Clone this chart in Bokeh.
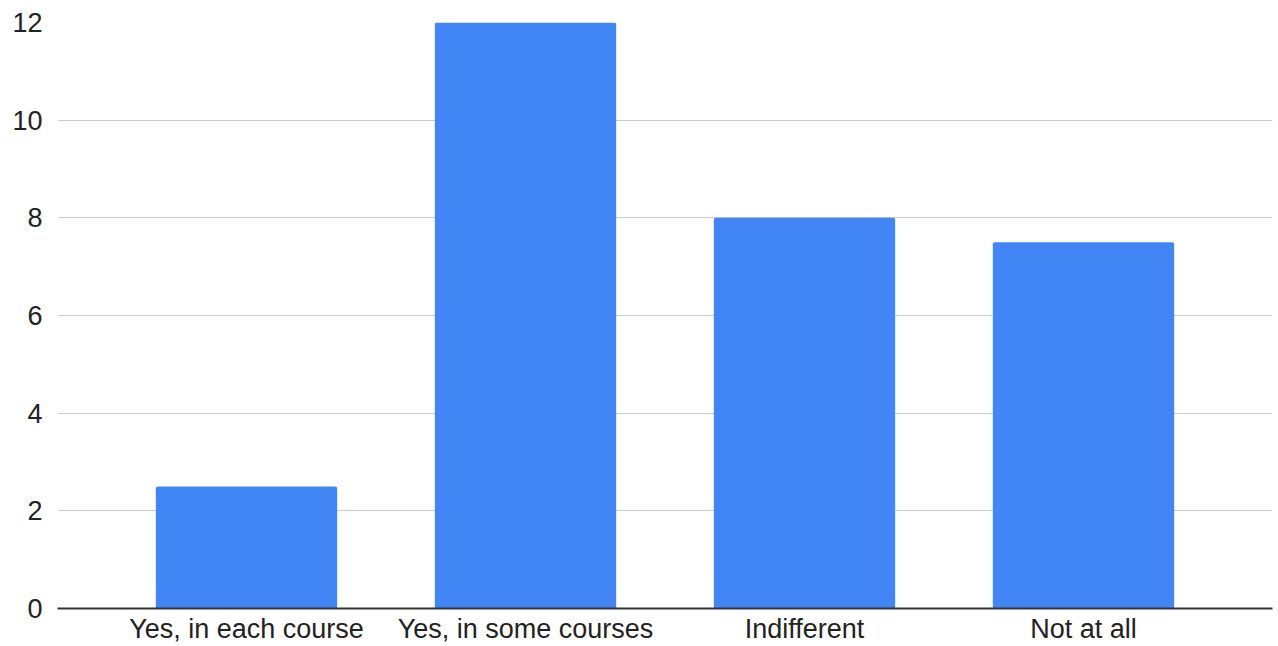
from bokeh.plotting import figure
from bokeh.models import FactorRange, Range1d, FixedTicker, ColumnDataSource
from bokeh.embed import file_html
from bokeh.resources import INLINE

categories = ["Yes, in each course", "Yes, in some courses", "Indifferent", "Not at all"]
counts = [2.5, 12, 8, 7.5]
y_ticks = [0, 2, 4, 6, 8, 10, 12]

source = ColumnDataSource(data=dict(cat=categories, count=counts))

p = figure(
    width=1278, height=646,
    x_range=FactorRange(factors=categories, range_padding=0.1775, range_padding_units="absolute"),
    y_range=Range1d(0, 12),
    output_backend="svg", toolbar_location=None,
    min_border_left=57, min_border_right=6, min_border_top=22, min_border_bottom=38,
)
p.vbar(x="cat", top="count", width=0.65, source=source,
       fill_color="#4285F4", line_color=None, border_radius=[2, 2, 0, 0])

p.outline_line_color = None
p.background_fill_color = "white"
p.border_fill_color = "white"

p.xgrid.grid_line_color = None
p.ygrid.grid_line_color = "#cccccc"
p.ygrid.grid_line_width = 1
p.yaxis.ticker = FixedTicker(ticks=y_ticks)

p.yaxis.axis_line_color = None
p.yaxis.major_tick_line_color = None
p.yaxis.minor_tick_line_color = None
p.yaxis.major_tick_out = 0
p.yaxis.major_label_standoff = 15
p.yaxis.major_label_text_font = "Liberation Sans"
p.yaxis.major_label_text_font_size = "27px"
p.yaxis.major_label_text_color = "#222222"

p.xaxis.axis_line_color = "#333333"
p.xaxis.axis_line_width = 2
p.xaxis.major_tick_line_color = None
p.xaxis.minor_tick_line_color = None
p.xaxis.major_tick_out = 0
p.xaxis.major_label_standoff = 5
p.xaxis.major_label_text_font = "Liberation Sans"
p.xaxis.major_label_text_font_size = "27px"
p.xaxis.major_label_text_color = "#222222"

open("out.html", "w").write(file_html(p, INLINE))
